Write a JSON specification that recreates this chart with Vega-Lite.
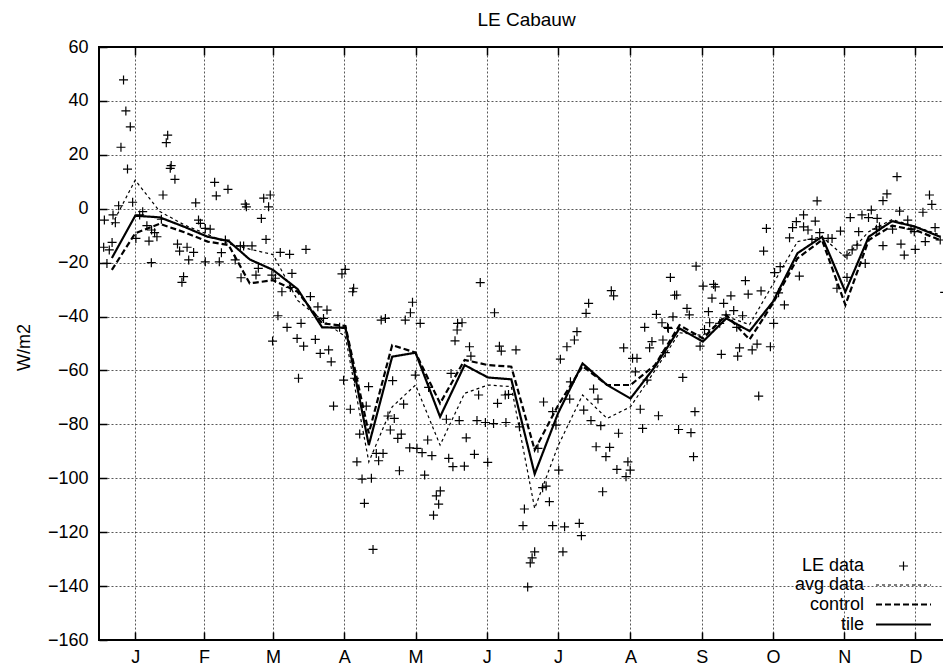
{
  "$schema": "https://vega.github.io/schema/vega-lite/v6.json",
  "width": 855,
  "height": 593,
  "autosize": {"type": "none"},
  "padding": {"left": 99, "top": 47, "right": 0, "bottom": 27},
  "background": "white",
  "title": {"text": "LE Cabauw", "fontSize": 19, "font": "Liberation Sans", "fontWeight": "normal", "offset": 8, "color": "black"},
  "config": {
    "font": "Liberation Sans",
    "view": {"stroke": "black", "strokeWidth": 2},
    "axis": {
      "labelFont": "Liberation Sans", "labelFontSize": 18, "labelColor": "black",
      "titleFont": "Liberation Sans", "titleFontSize": 18, "titleFontWeight": "normal", "titleColor": "black",
      "domain": false, "tickColor": "black", "tickSize": -8, "tickWidth": 1.5,
      "gridColor": "#000", "gridDash": [2, 2], "gridWidth": 1, "gridOpacity": 0.65
    }
  },
  "datasets": {
    "pts": [
      {"d":10.5,"LE data":47.8},{"d":11.5,"LE data":36.3},{"d":13.4,"LE data":30.4},{"d":9.4,"LE data":22.8},{"d":12.2,"LE data":14.7},{"d":29.4,"LE data":27.3},{"d":28.8,"LE data":24.5},{"d":30.9,"LE data":16},{"d":30.5,"LE data":15},{"d":32.5,"LE data":10.9},{"d":27.4,"LE data":5.1},{"d":14.4,"LE data":2.4},{"d":8.4,"LE data":1.1},{"d":6,"LE data":-2.3},{"d":2.3,"LE data":-4.2},{"d":7,"LE data":-5.2},{"d":18.7,"LE data":-1.1},{"d":17.4,"LE data":-2.3},{"d":26.7,"LE data":-3.9},{"d":20.5,"LE data":-6.3},{"d":22.5,"LE data":-7.9},{"d":23.8,"LE data":-8.9},{"d":15.8,"LE data":-11},{"d":21.4,"LE data":-12},{"d":24.8,"LE data":-10.4},{"d":2,"LE data":-14.3},{"d":4.4,"LE data":-15.3},{"d":5.6,"LE data":-12.5},{"d":3.4,"LE data":-20.3},{"d":22.4,"LE data":-20},
      {"d":41.4,"LE data":2.2},{"d":49.5,"LE data":9.8},{"d":50.2,"LE data":4.8},{"d":55.2,"LE data":7.2},{"d":62.6,"LE data":1.7},{"d":63.1,"LE data":0.7},{"d":70.5,"LE data":3.9},{"d":73.3,"LE data":5.1},{"d":72.6,"LE data":0.7},{"d":69.5,"LE data":-3.6},{"d":71.5,"LE data":-11.4},{"d":42.6,"LE data":-4.2},{"d":43.4,"LE data":-5.4},{"d":45.5,"LE data":-7.3},{"d":47.6,"LE data":-7.6},{"d":33.6,"LE data":-13.1},{"d":34.5,"LE data":-15.7},{"d":37.7,"LE data":-14.3},{"d":40.5,"LE data":-16.2},{"d":38.4,"LE data":-19},{"d":45.5,"LE data":-19.7},{"d":51.5,"LE data":-19.7},{"d":52.4,"LE data":-16.3},{"d":54.1,"LE data":-11.6},{"d":58.3,"LE data":-19},{"d":60.5,"LE data":-13.8},{"d":61.9,"LE data":-13.8},{"d":65.5,"LE data":-13.8},{"d":77.6,"LE data":-16.2},{"d":81.6,"LE data":-16.9},{"d":88.6,"LE data":-15.1},{"d":82.6,"LE data":-24},{"d":60.8,"LE data":-25.6},{"d":67.2,"LE data":-24.6},{"d":68.2,"LE data":-22.1},{"d":74,"LE data":-24.6},{"d":75.5,"LE data":-25.8},{"d":36.2,"LE data":-25.2},{"d":35.5,"LE data":-27.3},{"d":104,"LE data":-24.2},{"d":105.4,"LE data":-22.5},{"d":109,"LE data":-29.5},
      {"d":78.3,"LE data":-30.8},{"d":81.9,"LE data":-29.2},{"d":90.5,"LE data":-32.6},{"d":93.7,"LE data":-36.4},{"d":97.6,"LE data":-37.6},{"d":96.1,"LE data":-40.7},{"d":108.6,"LE data":-30.8},{"d":76.6,"LE data":-39.7},{"d":74.3,"LE data":-49.1},{"d":80.5,"LE data":-44},{"d":86.5,"LE data":-42.5},{"d":84.8,"LE data":-48.1},{"d":87.6,"LE data":-51},{"d":92.6,"LE data":-48.5},{"d":94.7,"LE data":-53.7},{"d":98.3,"LE data":-52.4},{"d":99.4,"LE data":-56.8},{"d":85.4,"LE data":-62.9},{"d":100.4,"LE data":-73.2},{"d":104.7,"LE data":-63.6},{"d":107.6,"LE data":-74.4},{"d":109.4,"LE data":-62.9},{"d":115.4,"LE data":-66},{"d":114.4,"LE data":-73.2},{"d":111.6,"LE data":-83.6},{"d":110.4,"LE data":-93.9},{"d":112.6,"LE data":-100.3},{"d":116.6,"LE data":-100},{"d":118.7,"LE data":-90.8},{"d":121.6,"LE data":-90.8},{"d":119.7,"LE data":-93.5},{"d":123.7,"LE data":-76.9},{"d":124.7,"LE data":-82.1},{"d":113.6,"LE data":-109.3},{"d":120.8,"LE data":-41.3},{"d":122.6,"LE data":-40.7},{"d":103,"LE data":-44},{"d":117.3,"LE data":-126.4},
      {"d":131.1,"LE data":-41.3},{"d":133.3,"LE data":-38.6},{"d":134.2,"LE data":-34.7},{"d":137.5,"LE data":-42.5},{"d":163.2,"LE data":-27.4},{"d":169.3,"LE data":-38.6},{"d":153.5,"LE data":-42.5},{"d":155.4,"LE data":-42.3},{"d":153.3,"LE data":-45},{"d":152.4,"LE data":-49},{"d":158.6,"LE data":-51.2},{"d":159.2,"LE data":-54.7},{"d":150.7,"LE data":-61.1},{"d":135.4,"LE data":-61.7},{"d":125.7,"LE data":-63.8},{"d":141.1,"LE data":-66.3},{"d":130.4,"LE data":-72.5},{"d":126.4,"LE data":-77.8},{"d":129.4,"LE data":-83.6},{"d":127.9,"LE data":-85.2},{"d":133,"LE data":-88.7},{"d":136.1,"LE data":-88.9},{"d":138.3,"LE data":-90.5},{"d":140.7,"LE data":-85.8},{"d":142.5,"LE data":-91.6},{"d":148.7,"LE data":-78.1},{"d":154.2,"LE data":-78.6},{"d":162.5,"LE data":-69.1},{"d":161.8,"LE data":-78.6},{"d":157.2,"LE data":-85},{"d":160.7,"LE data":-91.1},{"d":149.7,"LE data":-92.6},{"d":151.5,"LE data":-95.7},{"d":156.4,"LE data":-95.5},{"d":166.4,"LE data":-94.1},{"d":165.4,"LE data":-79.3},{"d":168.9,"LE data":-79.7},{"d":170.6,"LE data":-72.2},{"d":173.9,"LE data":-69.1},{"d":175.3,"LE data":-68.9},{"d":174.2,"LE data":-79.3},{"d":171.4,"LE data":-51},{"d":172.2,"LE data":-52.8},{"d":178.5,"LE data":-52.4},{"d":128.6,"LE data":-97.2},{"d":139.4,"LE data":-98.8},{"d":146.1,"LE data":-104.7},{"d":144.4,"LE data":-106.5},{"d":145.4,"LE data":-109.6},{"d":143.2,"LE data":-113.7},{"d":180,"LE data":-80.9},{"d":182.1,"LE data":-111.4},{"d":187.9,"LE data":-88.9},{"d":190.3,"LE data":-71.7},{"d":189.9,"LE data":-103.5},{"d":191.4,"LE data":-102.9},{"d":192.8,"LE data":-108.7},{"d":194.2,"LE data":-75.3},{"d":195.6,"LE data":-80.3},{"d":196.8,"LE data":-97},{"d":197.5,"LE data":-55.8},{"d":200.3,"LE data":-51.2},{"d":203.5,"LE data":-48.7},{"d":204.6,"LE data":-45.6},{"d":201.8,"LE data":-64.2},{"d":201.5,"LE data":-70.6},{"d":208.5,"LE data":-38.8},{"d":209.6,"LE data":-35.1},{"d":219.3,"LE data":-30.4},{"d":220.3,"LE data":-32.3},{"d":207.5,"LE data":-74.7},{"d":211.7,"LE data":-66.9},{"d":213.6,"LE data":-70.6},{"d":210.6,"LE data":-78.6},{"d":214.8,"LE data":-80.5},{"d":212.8,"LE data":-88.3},{"d":218.6,"LE data":-88.5},{"d":217,"LE data":-92},{"d":215.6,"LE data":-105},{"d":222.4,"LE data":-83.3},{"d":221.7,"LE data":-96.7},{"d":226.4,"LE data":-93.9},{"d":227.4,"LE data":-97},{"d":225.6,"LE data":-99.4},{"d":224.6,"LE data":-51.6},{"d":228.4,"LE data":-55.5},{"d":230.3,"LE data":-55.5},{"d":229.6,"LE data":-60.5},{"d":231.7,"LE data":-74.4},{"d":232.7,"LE data":-81.5},{"d":233.6,"LE data":-44},{"d":235.7,"LE data":-51.6},{"d":236.7,"LE data":-49.3},{"d":234.6,"LE data":-63.6},{"d":239.5,"LE data":-76.8},{"d":238.6,"LE data":-39.2},{"d":241,"LE data":-42.3},{"d":243.4,"LE data":-44},{"d":241.4,"LE data":-48.7},{"d":242.4,"LE data":-53.4},{"d":245.7,"LE data":-40.1},{"d":246.4,"LE data":-32.1},{"d":244.6,"LE data":-25.5},{"d":248.1,"LE data":-81.9},
      {"d":181.5,"LE data":-117.6},{"d":186.5,"LE data":-127.3},{"d":185.4,"LE data":-129.5},{"d":184.6,"LE data":-131.4},{"d":183.5,"LE data":-140.3},{"d":194.2,"LE data":-117.6},{"d":199.3,"LE data":-118},{"d":198.6,"LE data":-127.3},{"d":205.6,"LE data":-116.7},{"d":206.5,"LE data":-121.3},
      {"d":247.3,"LE data":-32},{"d":243.7,"LE data":-44.4},{"d":251.7,"LE data":-37},{"d":252.7,"LE data":-39.4},{"d":262.4,"LE data":-33.2},{"d":267.4,"LE data":-35.1},{"d":270.5,"LE data":-32.3},{"d":277.9,"LE data":-31.7},{"d":283.4,"LE data":-30.5},{"d":260.9,"LE data":-38.2},{"d":261.4,"LE data":-42.3},{"d":259.2,"LE data":-44.8},{"d":265.7,"LE data":-42.5},{"d":268.4,"LE data":-39.4},{"d":271.7,"LE data":-37.8},{"d":275.5,"LE data":-39.7},{"d":273,"LE data":-44},{"d":257.3,"LE data":-51},{"d":266.4,"LE data":-54},{"d":273.4,"LE data":-54.7},{"d":274.2,"LE data":-51.6},{"d":279.6,"LE data":-52.4},{"d":281.7,"LE data":-50.2},{"d":287.4,"LE data":-51.2},{"d":288.8,"LE data":-42.5},{"d":293.4,"LE data":-35.7},{"d":290.9,"LE data":-31.2},{"d":249.9,"LE data":-62.6},{"d":255.1,"LE data":-75.3},{"d":282.4,"LE data":-69.5},{"d":253.4,"LE data":-83.1},{"d":254.5,"LE data":-92},
      {"d":255.6,"LE data":-21.3},{"d":258.6,"LE data":-28.7},{"d":263.1,"LE data":-28.1},{"d":263.8,"LE data":-29},{"d":276.7,"LE data":-26.7},{"d":284.5,"LE data":-15.7},{"d":285.7,"LE data":-7.3},{"d":289.2,"LE data":-23.7},{"d":291.6,"LE data":-21.5},{"d":295.6,"LE data":-10.8},{"d":296.9,"LE data":-7},{"d":298.5,"LE data":-4.8},{"d":301.6,"LE data":-2.3},{"d":301.6,"LE data":-6.7},{"d":303.5,"LE data":-7.9},{"d":306.6,"LE data":-4.6},{"d":307.4,"LE data":2.9},{"d":305.2,"LE data":-11.4},{"d":308.5,"LE data":-8.9},{"d":312.1,"LE data":-11},{"d":313.8,"LE data":-11},{"d":317.4,"LE data":-8.3},{"d":321.6,"LE data":-3.3},{"d":326.6,"LE data":-2.3},{"d":329.4,"LE data":-3.3},{"d":330.6,"LE data":-0.5},{"d":333.1,"LE data":-3.6},{"d":334.1,"LE data":-6.7},{"d":335.6,"LE data":3},{"d":337.3,"LE data":5.5},{"d":341.6,"LE data":11.9},{"d":342.7,"LE data":-0.9},{"d":346.2,"LE data":-4.2},{"d":347.6,"LE data":-7.6},{"d":332.8,"LE data":-7.6},{"d":335.6,"LE data":-13.7},{"d":339.7,"LE data":-7.6},{"d":343.3,"LE data":-13.1},{"d":344.7,"LE data":-17.2},{"d":349.4,"LE data":-15.1},{"d":352.7,"LE data":-1.3},{"d":355.5,"LE data":5.1},{"d":356.5,"LE data":1.6},{"d":353.7,"LE data":-12.2},{"d":357.9,"LE data":-7},{"d":360.1,"LE data":-11.6},{"d":299.8,"LE data":-25},{"d":349,"LE data":-8.5},{"d":325.2,"LE data":-8.5},{"d":315.9,"LE data":-29.5},{"d":320.2,"LE data":-25.5},{"d":322.4,"LE data":-15.3},{"d":324.5,"LE data":-13.5},{"d":328,"LE data":-20.3},{"d":320.2,"LE data":-17.2},{"d":362,"LE data":-31}
    ],
    "lines": [
      {"d":5.5,"avg data":-6,"control":-22.7,"tile":-18.3},
      {"d":15.5,"avg data":10.6,"control":-9.1,"tile":-2.6},
      {"d":26,"avg data":-1,"control":-5.6,"tile":-3.2},
      {"d":36.5,"avg data":-6,"control":-8.7,"tile":-6.7},
      {"d":46.5,"avg data":-9.5,"control":-12.2,"tile":-10.4},
      {"d":55.5,"avg data":-13,"control":-13.5,"tile":-12},
      {"d":64.5,"avg data":-15,"control":-27.7,"tile":-18.8},
      {"d":74.5,"avg data":-17,"control":-26.5,"tile":-22.7},
      {"d":85,"avg data":-34,"control":-30.8,"tile":-29.8},
      {"d":95.5,"avg data":-41.3,"control":-42.5,"tile":-44},
      {"d":105.5,"avg data":-47.5,"control":-43.5,"tile":-44.2},
      {"d":115.5,"avg data":-93.9,"control":-83.3,"tile":-87.7},
      {"d":125.5,"avg data":-73.5,"control":-50.6,"tile":-54.9},
      {"d":135.5,"avg data":-65.4,"control":-53.4,"tile":-53.4},
      {"d":146,"avg data":-87.7,"control":-72.2,"tile":-77.2},
      {"d":156.5,"avg data":-68.5,"control":-56.1,"tile":-58},
      {"d":166.5,"avg data":-65.4,"control":-58,"tile":-62.6},
      {"d":176.5,"avg data":-66,"control":-58.6,"tile":-63.3},
      {"d":186.5,"avg data":-111.2,"control":-89.5,"tile":-98.4},
      {"d":196.5,"avg data":-88,"control":-73,"tile":-75.9},
      {"d":207,"avg data":-69.1,"control":-58.4,"tile":-57.4},
      {"d":217.5,"avg data":-77.8,"control":-65.4,"tile":-65.4},
      {"d":227.5,"avg data":-73.5,"control":-65.4,"tile":-70.4},
      {"d":238,"avg data":-60,"control":-58,"tile":-58.6},
      {"d":248.5,"avg data":-46,"control":-43.2,"tile":-44.4},
      {"d":258.5,"avg data":-47,"control":-48.1,"tile":-49.3},
      {"d":268.5,"avg data":-40,"control":-39.4,"tile":-40.7},
      {"d":278.5,"avg data":-43,"control":-48.5,"tile":-45.4},
      {"d":288.5,"avg data":-28,"control":-35.1,"tile":-34.5},
      {"d":299,"avg data":-12.2,"control":-18.4,"tile":-16.5},
      {"d":309.5,"avg data":-10.4,"control":-11.6,"tile":-10.4},
      {"d":319.5,"avg data":-18,"control":-35.7,"tile":-30.8},
      {"d":329.5,"avg data":-8.5,"control":-11.6,"tile":-10.4},
      {"d":339.5,"avg data":-4,"control":-6.3,"tile":-4.6},
      {"d":349.5,"avg data":-6.6,"control":-7.9,"tile":-6.7},
      {"d":360,"avg data":-9.7,"control":-11.6,"tile":-10.4}
    ]
  },
  "resolve": {"axis": {"x": "independent"}},
  "layer": [
    {
      "data": {"name": "pts"},
      "transform": [{"fold": ["LE data"], "as": ["key", "value"]}],
      "mark": {"type": "point", "filled": false, "stroke": "black", "strokeWidth": 1.2, "size": 256, "opacity": 1},
      "encoding": {
        "x": {"field": "d", "type": "quantitative", "scale": {"domain": [0, 366], "nice": false, "zero": false},
          "axis": {"values": [15.5,45,74.5,105,135.5,166,196.5,227.5,258,288.5,319,349.5],
            "labelExpr": "['J','F','M','A','M','J','J','A','S','O','N','D'][floor(datum.value/30.5)]",
            "title": null, "grid": true, "labelPadding": 16, "labelFlush": false}},
        "y": {"field": "value", "type": "quantitative", "scale": {"domain": [-160, 60], "nice": false, "zero": false},
          "axis": {"values": [-160,-140,-120,-100,-80,-60,-40,-20,0,20,40,60], "title": "W/m2", "grid": true,
            "labelPadding": 19, "titlePadding": 14, "titleY": 300, "labelFlush": false}},
        "shape": {"field": "key", "type": "nominal",
          "scale": {"domain": ["LE data", "avg data", "control", "tile"],
            "range": ["M-0.5625,0L0.5625,0M0,-0.5625L0,0.5625", "M-3.4375,0L3.4375,0", "M-3.4375,0L3.4375,0", "M-3.4375,0L3.4375,0"]},
          "legend": {"orient": "none", "legendX": 795, "legendY": 510, "title": null, "labelFontSize": 18, "labelFont": "Liberation Sans", "labelColor": "black",
            "labelAlign": "right", "labelOffset": -49, "symbolSize": 256, "rowPadding": 1, "symbolStrokeColor": "black", "symbolFillColor": "transparent", "symbolOpacity": 1, "padding": 0}}
      }
    },
    {
      "data": {"name": "lines"},
      "transform": [{"fold": ["avg data", "control", "tile"], "as": ["key", "value"]}],
      "mark": {"type": "line", "color": "black"},
      "encoding": {
        "x": {"field": "d", "type": "quantitative", "scale": {"domain": [0, 366], "nice": false, "zero": false},
          "axis": {"orient": "top", "values": [15.5,45,74.5,105,135.5,166,196.5,227.5,258,288.5,319,349.5], "labels": false, "grid": false, "title": null}},
        "y": {"field": "value", "type": "quantitative"},
        "strokeDash": {"field": "key", "type": "nominal",
          "scale": {"domain": ["LE data", "avg data", "control", "tile"], "range": [[1, 0], [3, 3], [6, 3], [1, 0]]},
          "legend": {"orient": "none", "legendX": 795, "legendY": 510, "title": null, "labelFontSize": 18, "labelFont": "Liberation Sans", "labelColor": "black",
            "labelAlign": "right", "labelOffset": -49, "symbolSize": 256, "rowPadding": 1, "symbolStrokeColor": "black", "symbolFillColor": "transparent", "symbolOpacity": 1, "padding": 0}},
        "strokeWidth": {"field": "key", "type": "nominal",
          "scale": {"type": "ordinal", "domain": ["LE data", "avg data", "control", "tile"], "range": [1.2, 1.2, 2.2, 2.2]},
          "legend": {"orient": "none", "legendX": 795, "legendY": 510, "title": null, "labelFontSize": 18, "labelFont": "Liberation Sans", "labelColor": "black",
            "labelAlign": "right", "labelOffset": -49, "symbolSize": 256, "rowPadding": 1, "symbolStrokeColor": "black", "symbolFillColor": "transparent", "symbolOpacity": 1, "padding": 0}}
      }
    }
  ]
}
